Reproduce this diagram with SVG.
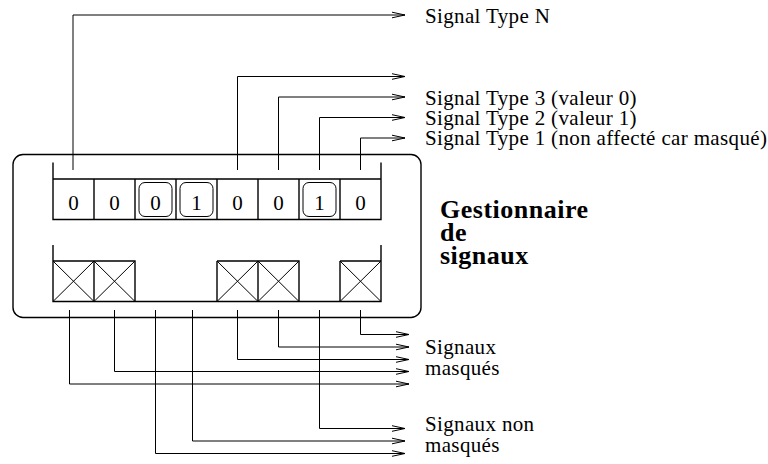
<svg xmlns="http://www.w3.org/2000/svg" width="768" height="464" viewBox="0 0 768 464">
<style>
.ln{fill:none;stroke:#000;stroke-width:1}
.bx{fill:none;stroke:#000;stroke-width:1.4}
.rb{fill:none;stroke:#000;stroke-width:1;}
.t{font-family:"Liberation Serif","Times New Roman",serif;font-size:21px;letter-spacing:0.35px;fill:#000}
.d{font-family:"Liberation Serif","Times New Roman",serif;font-size:21px;fill:#000;text-anchor:middle}
.b{font-family:"Liberation Serif","Times New Roman",serif;font-size:26px;letter-spacing:0.5px;font-weight:bold;fill:#000}
</style>
<defs>
<marker id="ar" markerUnits="userSpaceOnUse" markerWidth="16" markerHeight="10" refX="14" refY="5" orient="auto">
<path d="M1,2.2 L14,5 L1,7.8" fill="none" stroke="#000" stroke-width="1"/>
</marker>
</defs>
<rect width="768" height="464" fill="#fff"/>
<g id="gestionnaire">
<rect class="bx" x="13" y="154.5" width="408" height="163" rx="10"/>
<text class="b" x="440" y="218">Gestionnaire</text>
<text class="b" x="440" y="241">de</text>
<text class="b" x="440" y="264">signaux</text>
</g>
<g id="registre">
<path class="bx" d="M53,162.5 V219.5 H381 V162.5 M53,179 H381 M94,179 V219.5 M135,179 V219.5 M176,179 V219.5 M217,179 V219.5 M258,179 V219.5 M299,179 V219.5 M340,179 V219.5"/>
<rect class="rb" x="139" y="182.5" width="33" height="34" rx="6"/>
<rect class="rb" x="180" y="182.5" width="33" height="34" rx="6"/>
<rect class="rb" x="303" y="182.5" width="33" height="34" rx="6"/>
<text class="d" x="73.5" y="210">0</text>
<text class="d" x="114.5" y="210">0</text>
<text class="d" x="155.5" y="210">0</text>
<text class="d" x="196.5" y="210">1</text>
<text class="d" x="237.5" y="210">0</text>
<text class="d" x="278.5" y="210">0</text>
<text class="d" x="319.5" y="210">1</text>
<text class="d" x="360.5" y="210">0</text>
</g>
<g id="masque">
<path class="bx" d="M53,245 V301.5 H381 V245"/>
<path class="bx" d="M53,261 H135 V301.5 M94,261 V301.5 M217,261 H299 V301.5 M217,261 V301.5 M258,261 V301.5 M340,261 H381 M340,261 V301.5"/>
<path class="ln" d="M53,261 L94,301.5 M94,261 L53,301.5 M94,261 L135,301.5 M135,261 L94,301.5 M217,261 L258,301.5 M258,261 L217,301.5 M258,261 L299,301.5 M299,261 L258,301.5 M340,261 L381,301.5 M381,261 L340,301.5"/>
</g>
<g id="connecteurs">
<path class="ln" marker-end="url(#ar)" d="M73,170 V15 H405"/>
<path class="ln" marker-end="url(#ar)" d="M237.5,170 V76.5 H405"/>
<path class="ln" marker-end="url(#ar)" d="M278.5,170 V97 H405"/>
<path class="ln" marker-end="url(#ar)" d="M319.5,170 V117.5 H405"/>
<path class="ln" marker-end="url(#ar)" d="M360.5,170 V138 H405"/>
<path class="ln" marker-end="url(#ar)" d="M360.5,310 V334.5 H409"/>
<path class="ln" marker-end="url(#ar)" d="M278.5,310 V347 H409"/>
<path class="ln" marker-end="url(#ar)" d="M237.5,310 V359.5 H409"/>
<path class="ln" marker-end="url(#ar)" d="M114.5,310 V371.5 H409"/>
<path class="ln" marker-end="url(#ar)" d="M69.5,310 V384 H409"/>
<path class="ln" marker-end="url(#ar)" d="M319.5,310 V428.5 H405"/>
<path class="ln" marker-end="url(#ar)" d="M192.5,310 V441 H405"/>
<path class="ln" marker-end="url(#ar)" d="M155.5,310 V453.5 H405"/>
</g>
<g id="etiquettes">
<text class="t" x="425" y="23">Signal Type N</text>
<text class="t" x="425" y="105">Signal Type 3 (valeur 0)</text>
<text class="t" x="425" y="125">Signal Type 2 (valeur 1)</text>
<text class="t" x="425" y="145">Signal Type 1 (non affecté car masqué)</text>
<text class="t" x="425" y="354">Signaux</text>
<text class="t" x="425" y="375">masqués</text>
<text class="t" x="425" y="431">Signaux non</text>
<text class="t" x="425" y="452">masqués</text>
</g>
</svg>
